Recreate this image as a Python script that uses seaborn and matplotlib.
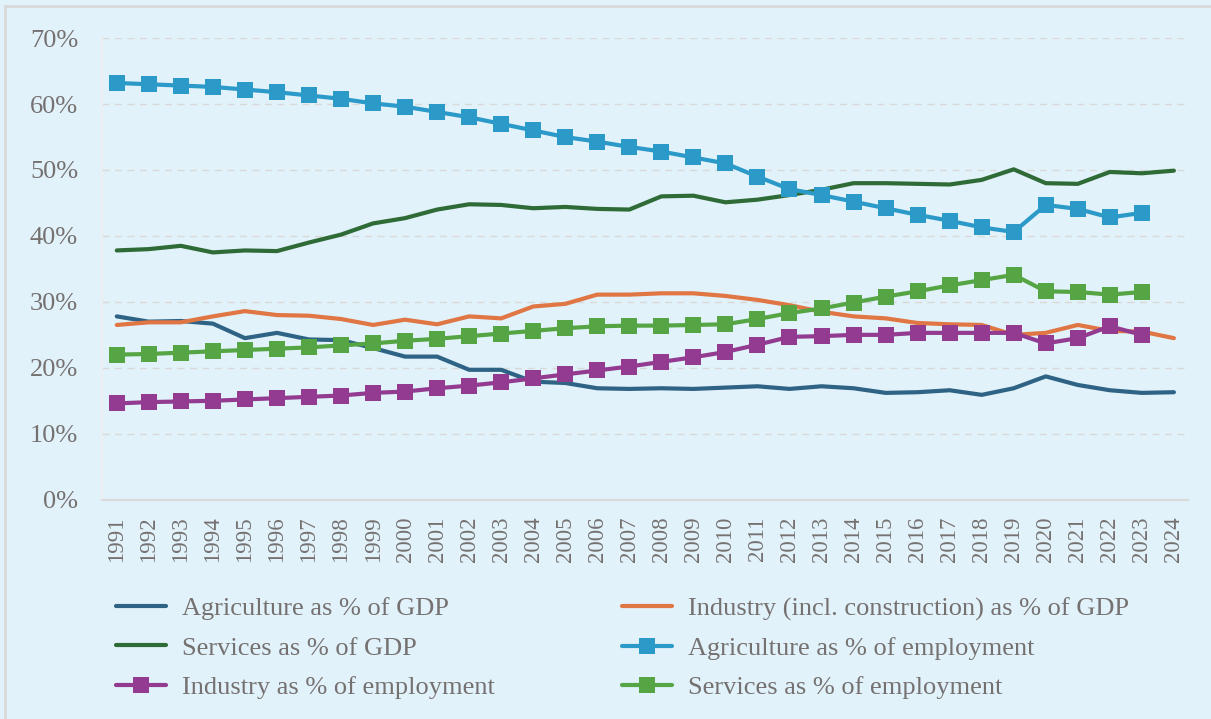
import matplotlib
matplotlib.use("Agg")
import matplotlib.pyplot as plt
import numpy as np
import pandas as pd
import seaborn as sns
from matplotlib.patches import Rectangle
from matplotlib.ticker import FuncFormatter

years = list(range(1991, 2025))

agri_gdp = [27.8, 27.0, 27.1, 26.7, 24.5, 25.3, 24.3, 24.2, 23.0, 21.7,
            21.7, 19.7, 19.7, 17.9, 17.7, 16.9, 16.8, 16.9, 16.8, 17.0,
            17.2, 16.8, 17.2, 16.9, 16.2, 16.3, 16.6, 15.9, 16.9, 18.7,
            17.4, 16.6, 16.2, 16.3]
ind_gdp = [26.5, 26.9, 26.9, 27.8, 28.6, 28.0, 27.9, 27.4, 26.5, 27.3,
           26.6, 27.8, 27.5, 29.3, 29.7, 31.1, 31.1, 31.3, 31.3, 30.9,
           30.3, 29.5, 28.5, 27.8, 27.5, 26.8, 26.6, 26.5, 25.0, 25.3,
           26.5, 25.6, 25.5, 24.5]
serv_gdp = [37.8, 38.0, 38.5, 37.5, 37.8, 37.7, 39.0, 40.2, 41.9, 42.7,
            44.0, 44.8, 44.7, 44.2, 44.4, 44.1, 44.0, 46.0, 46.1, 45.1,
            45.5, 46.2, 47.0, 48.0, 48.0, 47.9, 47.8, 48.5, 50.1, 48.0,
            47.9, 49.7, 49.5, 49.9]
agri_emp = [63.2, 63.0, 62.8, 62.6, 62.2, 61.8, 61.3, 60.8, 60.1, 59.6,
            58.8, 58.0, 57.0, 56.0, 55.0, 54.3, 53.5, 52.8, 51.9, 51.0,
            49.0, 47.1, 46.2, 45.2, 44.2, 43.2, 42.3, 41.3, 40.6, 44.7,
            44.1, 42.8, 43.5, np.nan]
ind_emp = [14.6, 14.8, 14.9, 15.0, 15.2, 15.4, 15.6, 15.8, 16.2, 16.4,
           16.9, 17.3, 17.8, 18.4, 19.0, 19.6, 20.2, 20.9, 21.6, 22.4,
           23.5, 24.7, 24.8, 25.0, 25.0, 25.3, 25.3, 25.3, 25.3, 23.7,
           24.5, 26.3, 25.0, np.nan]
serv_emp = [22.0, 22.1, 22.3, 22.5, 22.7, 22.9, 23.1, 23.4, 23.7, 24.1,
            24.4, 24.8, 25.2, 25.6, 26.0, 26.3, 26.4, 26.4, 26.5, 26.6,
            27.4, 28.3, 29.0, 29.9, 30.8, 31.6, 32.5, 33.3, 34.1, 31.6,
            31.5, 31.1, 31.5, np.nan]

series = [
    ("Agriculture as % of GDP", agri_gdp, "#2E6385", None),
    ("Industry (incl. construction) as % of GDP", ind_gdp, "#E07644", None),
    ("Services as % of GDP", serv_gdp, "#2F6B37", None),
    ("Agriculture as % of employment", agri_emp, "#2B9AC9", "s"),
    ("Industry as % of employment", ind_emp, "#923B90", "s"),
    ("Services as % of employment", serv_emp, "#56A544", "s"),
]

BG = "#E1F2FA"
TXT = "#767171"

sns.set_theme(style="white")
plt.rcParams["font.family"] = ["Liberation Serif", "DejaVu Serif"]

fig = plt.figure(figsize=(12.11, 7.19), dpi=100, facecolor=BG)
ax = fig.add_axes([0.084, 0.305, 0.897, 0.642])
ax.set_facecolor(BG)

pos = np.arange(len(years))
for label, vals, color, marker in series:
    sns.lineplot(x=pos, y=vals, ax=ax, color=color, linewidth=3.0,
                 marker=marker, markersize=12, markeredgewidth=0,
                 label=label, solid_capstyle="round")

ax.set_xlim(-0.47, len(years) - 1 + 0.44)
ax.set_ylim(0, 70)
ax.set_yticks(range(0, 71, 10))
ax.yaxis.set_major_formatter(FuncFormatter(lambda v, _: f"{v:.0f}%"))
ax.set_xticks(pos)
ax.set_xticklabels([str(y) for y in years], rotation=90)
ax.tick_params(axis="y", labelsize=19, colors=TXT, length=0, pad=17)
ax.tick_params(axis="x", labelsize=16.5, colors=TXT, length=0, pad=12)
ax.grid(axis="y", color="#D9D9D9", linestyle=(0, (5, 4)), linewidth=1)
ax.set_axisbelow(True)
for s in ["top", "right"]:
    ax.spines[s].set_visible(False)
ax.spines["left"].set_color("#EEEEEE")
ax.spines["bottom"].set_color("#D9D9D9")
ax.spines["bottom"].set_linewidth(1.5)
ax.set_xlabel("")
ax.set_ylabel("")

handles, labels = ax.get_legend_handles_labels()
ax.get_legend().remove()
order = [0, 2, 4, 1, 3, 5]
fig.legend([handles[i] for i in order], [labels[i] for i in order],
           ncol=2, loc="upper left", bbox_to_anchor=(0.096, 0.170),
           frameon=False, fontsize=19, labelcolor=TXT,
           handlelength=1.9, handletextpad=0.6, columnspacing=4.8,
           labelspacing=0.6, borderaxespad=0, borderpad=0)

fig.patches.append(Rectangle((0.004, -0.01), 1.2, 1.002, transform=fig.transFigure,
                             fill=False, edgecolor="#D9D9D9", linewidth=2))

fig.savefig("out.png", dpi=100, facecolor=BG)
